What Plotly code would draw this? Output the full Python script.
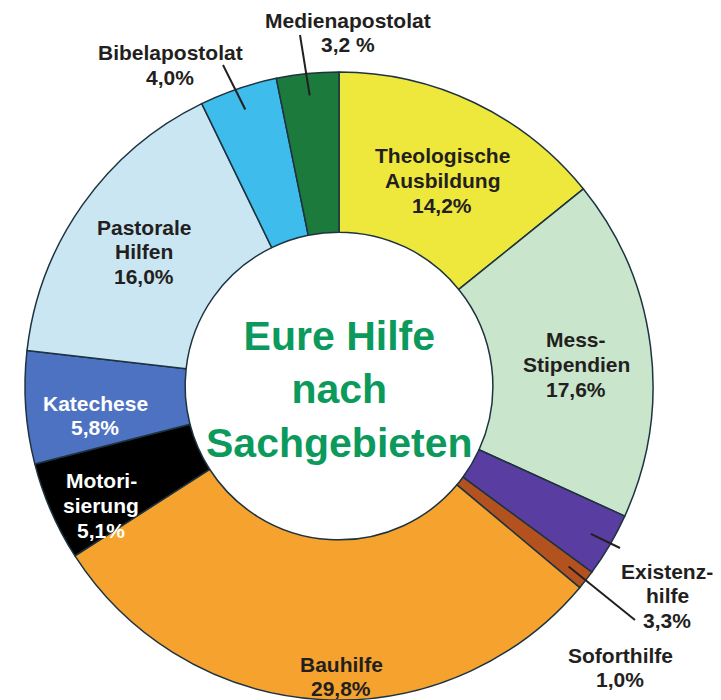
import math
import plotly.graph_objects as go

# ---- data ----
categories = ["Theologische Ausbildung", "Mess-Stipendien", "Existenzhilfe", "Soforthilfe",
              "Bauhilfe", "Motorisierung", "Katechese", "Pastorale Hilfen",
              "Bibelapostolat", "Medienapostolat"]
values = [14.2, 17.6, 3.3, 1.0, 29.8, 5.1, 5.8, 16.0, 4.0, 3.2]
label_lines = [["Theologische", "Ausbildung", "14,2%"], ["Mess-", "Stipendien", "17,6%"],
               ["Existenz-", "hilfe", "3,3%"], ["Soforthilfe", "1,0%"], ["Bauhilfe", "29,8%"],
               ["Motori-", "sierung", "5,1%"], ["Katechese", "5,8%"], ["Pastorale", "Hilfen", "16,0%"],
               ["Bibelapostolat", "4,0%"], ["Medienapostolat", "3,2 %"]]
colors = ["#ede83b", "#c9e5cb", "#5a3da0", "#b3521f", "#f5a32e",
          "#000000", "#4e72c2", "#cae6f2", "#3ebdec", "#1c7a3c"]
title_text = "Eure Hilfe<br>nach<br>Sachgebieten"

# ---- layout constants ----
OFF = 8                      # default page body margin
W, H = 721 - OFF, 700 - OFF  # figure size
dom_x = [17 / W, 645 / W]
dom_y = [0.0, 1 - 64 / H]
R = min((dom_x[1] - dom_x[0]) * W, (dom_y[1] - dom_y[0]) * H) / 2
CX = (dom_x[0] + dom_x[1]) / 2 * W + OFF          # in screen pixels
CY = H - (dom_y[0] + dom_y[1]) / 2 * H + OFF


def P(x, y):
    """screen pixel -> paper coords"""
    return (x - OFF) / W, 1 - (y - OFF) / H


# label placement (screen pixel: x center, y of first line center)
label_pos = {
    "Theologische Ausbildung": (442, 156),
    "Mess-Stipendien": (576, 340),
    "Existenzhilfe": (667, 571),
    "Soforthilfe": (620, 655),
    "Bauhilfe": (341, 664),
    "Motorisierung": (101, 481),
    "Katechese": (95, 403),
    "Pastorale Hilfen": (144, 227),
    "Bibelapostolat": (170, 53),
    "Medienapostolat": (348, 20),
}
LINE_GAP = 24.5
white_text = {"Motorisierung", "Katechese"}
leader_outer = {
    "Medienapostolat": (300, 35),
    "Bibelapostolat": (223, 65),
    "Existenzhilfe": (620, 548),
    "Soforthilfe": (635, 620),
}

fig = go.Figure(go.Pie(
    labels=categories,
    values=values,
    sort=False,
    direction="clockwise",
    rotation=0,
    hole=0.49,
    marker=dict(colors=colors, line=dict(color="#1d3340", width=1.5)),
    textinfo="none",
    hoverinfo="label+percent",
    domain=dict(x=dom_x, y=dom_y),
    showlegend=False,
))

annotations = []
for cat, lines in zip(categories, label_lines):
    x, y = label_pos[cat]
    for i, line in enumerate(lines):
        px, py = P(x, y + i * LINE_GAP)
        annotations.append(dict(
            x=px, y=py, xref="paper", yref="paper", text=line, showarrow=False,
            xanchor="center", yanchor="middle", align="center",
            font=dict(family="Liberation Sans, Arial, sans-serif", size=21, weight="bold",
                      color="#ffffff" if cat in white_text else "#231f20"),
        ))

px, py = P(CX, 389)
annotations.append(dict(
    x=px, y=py, xref="paper", yref="paper", text=title_text, showarrow=False,
    xanchor="center", yanchor="middle", align="center",
    font=dict(family="Liberation Sans, Arial, sans-serif", size=41, weight="bold", color="#0b9a5c"),
))

# leader lines: inner end at slice mid-angle
shapes = []
total = sum(values)
cum = 0.0
for cat, v in zip(categories, values):
    mid = (cum + v / 2) / total
    cum += v
    if cat in leader_outer:
        ang = 2 * math.pi * mid
        ix = CX + 0.93 * R * math.sin(ang)
        iy = CY - 0.93 * R * math.cos(ang)
        ox, oy = leader_outer[cat]
        x0, y0 = P(ix, iy)
        x1, y1 = P(ox, oy)
        shapes.append(dict(type="line", xref="paper", yref="paper",
                           x0=x0, y0=y0, x1=x1, y1=y1,
                           line=dict(color="#231f20", width=2)))

fig.update_layout(
    width=W, height=H,
    margin=dict(l=0, r=0, t=0, b=0),
    paper_bgcolor="white",
    plot_bgcolor="white",
    annotations=annotations,
    shapes=shapes,
)

fig.write_html("out.html")
